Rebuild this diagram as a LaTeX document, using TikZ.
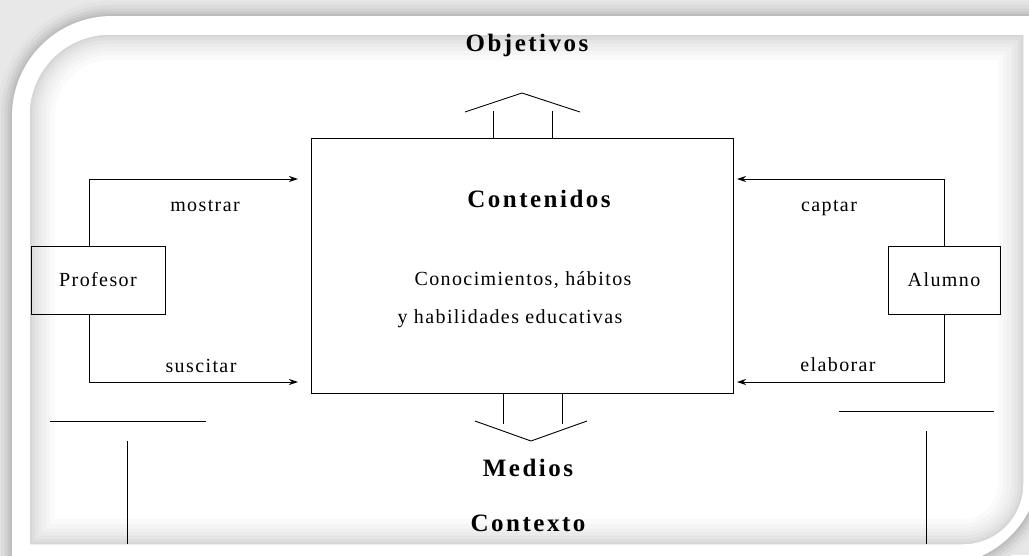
\documentclass[tikz,border=0pt]{standalone}
\usepackage{fontspec}
\setmainfont{Liberation Serif}
\newfontfamily\regfont[LetterSpace=7]{Liberation Serif}
\newfontfamily\ttlfont[LetterSpace=10]{Liberation Serif}
\usetikzlibrary{calc,arrows.meta}
\begin{document}
\begin{tikzpicture}[x=1pt,y=1pt,
  lbl/.style={anchor=base,inner sep=0pt,font=\regfont\fontsize{20}{22}\selectfont},
  ttl/.style={anchor=base,inner sep=0pt,font=\ttlfont\bfseries\fontsize{25}{27}\selectfont},
  boxn/.style={draw,line width=1pt,inner sep=0pt,font=\regfont\fontsize{20}{22}\selectfont},
  conn/.style={line width=1pt,-{Stealth[length=9pt,width=6pt]}},
  ln/.style={line width=1pt}]
\clip (0,0) rectangle (1029,-555);
% background and frame
\fill[black!9] (0,0) rectangle (1029,-555);
\foreach \w/\c in {30/11,22/14,15/18,9/22,4/26}
  \draw[line width=\w pt, black!\c] (12,-565) -- (12,-116) arc[start angle=180,end angle=90,radius=100] -- (1040,-16) -- (1040,-465) arc[start angle=0,end angle=-90,radius=100] -- cycle;
\fill[white] (12,-565) -- (12,-116) arc[start angle=180,end angle=90,radius=100] -- (1040,-16) -- (1040,-465) arc[start angle=0,end angle=-90,radius=100] -- cycle;
\begin{scope}
  \clip (30,-544) -- (30,-115) arc[start angle=180,end angle=90,radius=80] -- (1023,-35) -- (1023,-484) arc[start angle=0,end angle=-90,radius=60] -- cycle;
  \fill[white] (0,0) rectangle (1029,-555);
  \foreach \w/\c in {50/2,40/4,32/6,24/8,17/10,10/13,4/16}
    \draw[line width=\w pt, black!\c] (30,-544) -- (30,-115) arc[start angle=180,end angle=90,radius=80] -- (1023,-35) -- (1023,-484) arc[start angle=0,end angle=-90,radius=60] -- cycle;
\end{scope}
% diagram
\node[boxn, minimum width=422pt, minimum height=255pt] (cont) at (522,-265.5) {};
\node[boxn, minimum width=134pt, minimum height=68pt] (prof) at (98,-280) {Profesor};
\node[boxn, minimum width=112pt, minimum height=68pt] (alum) at (944,-280) {Alumno};
\coordinate (mE) at (298,-179);
\coordinate (sE) at (298,-382);
\coordinate (cE) at (737,-179);
\coordinate (eE) at (737,-382);
\draw[conn] ($(prof.north)+(-9,0)$) |- (mE);
\draw[conn] ($(prof.south)+(-9,0)$) |- (sE);
\draw[conn] (alum.north) |- (cE);
\draw[conn] (alum.south) |- (eE);
% top arrow
\draw[ln] ($(cont.north)+(-29,0)$) -- ++(0,27);
\draw[ln] ($(cont.north)+(30,0)$) -- ++(0,27);
\coordinate (ta1) at (465,-112);
\coordinate (ta2) at (522,-93);
\coordinate (ta3) at (580,-112);
\draw[line width=0.9pt] (ta1) -- (ta2) -- (ta3);
% bottom arrow
\draw[ln] ($(cont.south)+(-19,0)$) -- ++(0,-30);
\draw[ln] ($(cont.south)+(40,0)$) -- ++(0,-30);
\coordinate (ba1) at (475,-421);
\coordinate (ba2) at (531,-441);
\coordinate (ba3) at (587,-421);
\draw[line width=0.9pt] (ba1) -- (ba2) -- (ba3);
% lower lines
\coordinate (l1) at (50,-421);
\coordinate (l2) at (206,-421);
\coordinate (l3) at (127,-441);
\coordinate (l4) at (127,-544);
\coordinate (r1) at (839,-411);
\coordinate (r2) at (994,-411);
\coordinate (r3) at (926,-431);
\coordinate (r4) at (926,-544);
\draw[ln] (l1) -- (l2);
\draw[ln] (l3) -- (l4);
\draw[ln] (r1) -- (r2);
\draw[ln] (r3) -- (r4);
% texts
\node[ttl] (obj) at (527,-51) {Objetivos};
\node[ttl] (conttl) at (539,-207) {Contenidos};
\node[lbl] (t1) at (523,-285) {Conocimientos, hábitos};
\node[lbl] (t2) at (510,-323) {y habilidades educativas};
\node[lbl] (most) at (205,-211) {mostrar};
\node[lbl] (susc) at (201,-372) {suscitar};
\node[lbl] (capt) at (829,-211) {captar};
\node[lbl] (elab) at (838,-371) {elaborar};
\node[ttl] (med) at (528,-476) {Medios};
\node[ttl] (ctx) at (528,-531) {Contexto};
\end{tikzpicture}
\end{document}
